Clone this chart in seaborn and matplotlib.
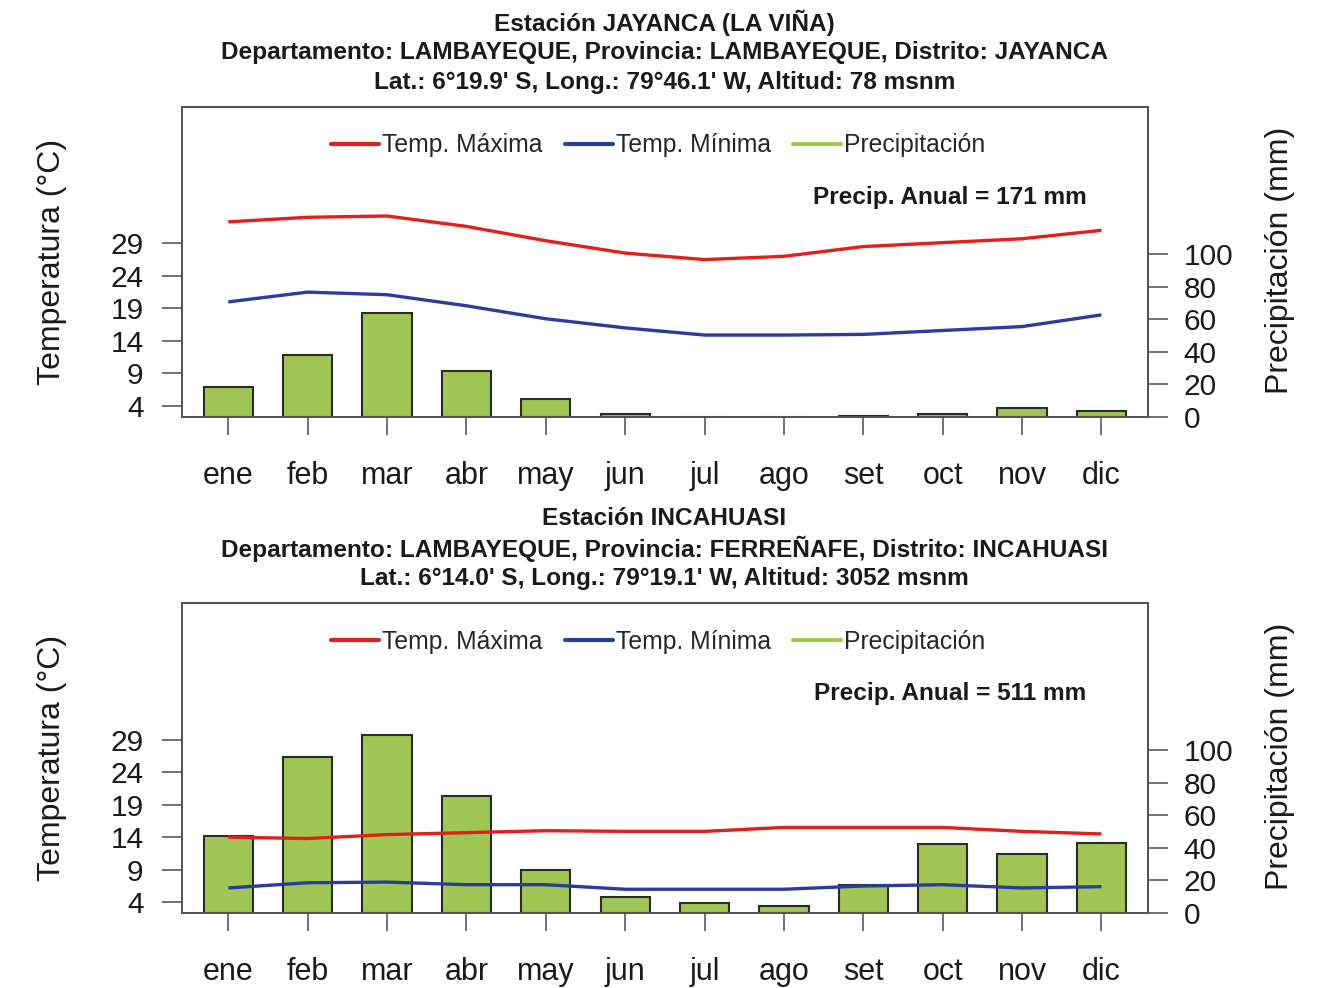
import numpy as np
import matplotlib
matplotlib.use("Agg")
import matplotlib.pyplot as plt
import seaborn as sns
from matplotlib.lines import Line2D
from matplotlib import font_manager

# Monthly climatology for two stations in Lambayeque
meses = ["ene", "feb", "mar", "abr", "may", "jun", "jul", "ago", "set", "oct", "nov", "dic"]

jayanca_tmax = [32.3, 33.0, 33.2, 31.6, 29.4, 27.5, 26.5, 27.0, 28.5, 29.1, 29.7, 31.0]
jayanca_tmin = [20.0, 21.5, 21.1, 19.4, 17.4, 16.0, 14.9, 14.9, 15.0, 15.6, 16.2, 18.0]
jayanca_pp = [18.0, 38.0, 63.5, 28.0, 11.0, 1.5, 0.0, 0.0, 0.5, 1.5, 5.5, 3.3]

incahuasi_tmax = [14.0, 13.8, 14.4, 14.7, 15.0, 14.9, 14.9, 15.5, 15.5, 15.5, 14.9, 14.5]
incahuasi_tmin = [6.2, 7.0, 7.1, 6.7, 6.7, 6.0, 6.0, 6.0, 6.5, 6.7, 6.2, 6.4]
incahuasi_pp = [47.5, 96.0, 109.5, 72.0, 26.5, 10.0, 6.0, 4.5, 17.0, 42.5, 36.5, 43.0]

temp_ticks = [4, 9, 14, 19, 24, 29]
pp_ticks = [0, 20, 40, 60, 80, 100]

estaciones = [
    dict(
        titulo=["Estación JAYANCA (LA VIÑA)",
                "Departamento: LAMBAYEQUE, Provincia: LAMBAYEQUE, Distrito: JAYANCA",
                "Lat.: 6°19.9' S, Long.: 79°46.1' W, Altitud: 78 msnm"],
        tmax=jayanca_tmax, tmin=jayanca_tmin, pp=jayanca_pp,
    ),
    dict(
        titulo=["Estación INCAHUASI",
                "Departamento: LAMBAYEQUE, Provincia: FERREÑAFE, Distrito: INCAHUASI",
                "Lat.: 6°14.0' S, Long.: 79°19.1' W, Altitud: 3052 msnm"],
        tmax=incahuasi_tmax, tmin=incahuasi_tmin, pp=incahuasi_pp,
    ),
]

ROJO = "#e0201b"
AZUL = "#2a3d9c"
VERDE = "#a0c653"
BORDE = "#2b2b2b"
CAJA = "#555555"
TEXTO = "#1a1a1a"

sns.set_theme(style="white")
plt.rcParams["font.family"] = ["Liberation Sans", "DejaVu Sans"]
SANS = ["Liberation Sans", "DejaVu Sans"]

W, H = 1329, 988
fig = plt.figure(figsize=(W / 100, H / 100), dpi=100)
fig.patch.set_facecolor("white")


def px_axes(x0, y0, x1, y1):
    return fig.add_axes([x0 / W, 1 - y1 / H, (x1 - x0) / W, (y1 - y0) / H])


offset = 496.3
for i, est in enumerate(estaciones):
    dy = i * offset
    ax = px_axes(181.7, 106.7 + dy, 1148, 416.7 + dy)
    ax2 = ax.twinx()

    # precipitation bars on the right-hand scale
    sns.barplot(x=meses, y=est["pp"], ax=ax, color=VERDE, saturation=1,
                edgecolor=BORDE, linewidth=1.5, width=0.62, zorder=2)
    ax.set_ylim(0, 190.5)
    ax.yaxis.tick_right()
    ax.set_yticks(pp_ticks)
    ax.set_yticklabels([str(t) for t in pp_ticks])
    ax.set_xlabel("")
    ax.set_ylabel("")

    # temperature curves on the left-hand scale
    pos = np.arange(len(meses))
    sns.lineplot(x=pos, y=est["tmax"], ax=ax2, color=ROJO, linewidth=2.4,
                 solid_joinstyle="round", solid_capstyle="butt")
    sns.lineplot(x=pos, y=est["tmin"], ax=ax2, color=AZUL, linewidth=2.4,
                 solid_joinstyle="round", solid_capstyle="butt")
    ax2.set_ylim(2.35, 50.0)
    ax2.yaxis.tick_left()
    ax2.set_yticks(temp_ticks)
    ax2.set_yticklabels([str(t) for t in temp_ticks])
    ax2.set_ylabel("")
    ax.set_xlim(-0.587, 11.587)

    for a in (ax, ax2):
        for s in a.spines.values():
            s.set_color(CAJA)
            s.set_linewidth(1.4)
    ax.tick_params(axis="y", right=True, left=False, length=14.5, width=1.3,
                   color="#666666", pad=11, labelsize=21.5, labelcolor=TEXTO)
    ax2.tick_params(axis="y", left=True, right=False, length=14.5, width=1.3,
                    color="#666666", pad=13, labelsize=21.5, labelcolor=TEXTO)
    ax.tick_params(axis="x", bottom=True, length=13, width=1.3,
                   color="#666666", pad=19, labelsize=22, labelcolor=TEXTO)

    handles = [Line2D([], [], color=ROJO, lw=3),
               Line2D([], [], color=AZUL, lw=3),
               Line2D([], [], color=VERDE, lw=3)]
    ax2.legend(handles, ["Temp. Máxima", "Temp. Mínima", "Precipitación"],
               ncol=3, loc="center", bbox_to_anchor=(0.493, 0.875), frameon=False,
               handlelength=1.95, handletextpad=0.12, columnspacing=0.9,
               prop=font_manager.FontProperties(family=SANS, size=17.8))

    total = round(sum(est["pp"]))
    ax2.text(0.795, 0.708, f"Precip. Anual = {total} mm", transform=ax2.transAxes,
             ha="center", va="center", fontsize=17.6, fontweight="bold",
             family=SANS, color=TEXTO)

    for k, line in enumerate(est["titulo"]):
        fig.text(664.5 / W, 1 - (22.5 + 30 * k + dy) / H, line, ha="center", va="center",
                 fontsize=17.6, fontweight="bold", family=SANS, color=TEXTO)

    fig.text(52 / W, 1 - (262 + dy) / H, "Temperatura (°C)", rotation=90,
             ha="center", va="center", fontsize=23, color=TEXTO)
    fig.text(1280 / W, 1 - (260 + dy) / H, "Precipitación (mm)", rotation=90,
             ha="center", va="center", fontsize=23, color=TEXTO)

fig.savefig("out.png", dpi=100, facecolor="white")
